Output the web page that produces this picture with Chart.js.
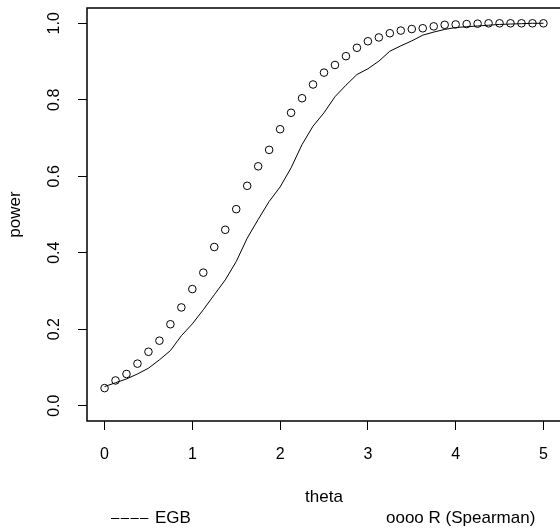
<!DOCTYPE html>
<html>
<head>
<meta charset="utf-8">
<script src="https://cdn.jsdelivr.net/npm/chart.js@4/dist/chart.umd.min.js"></script>
<style>
  html, body { margin: 0; padding: 0; background: #fff; overflow: hidden; }
  #wrap { width: 566px; height: 531px; position: relative; }
</style>
</head>
<body>
<div id="wrap"><canvas id="powerChart"></canvas></div>
<script>
// theta grid (x values)
const theta = [0, 0.125, 0.25, 0.375, 0.5, 0.625, 0.75, 0.875, 1, 1.125, 1.25, 1.375, 1.5, 1.625, 1.75, 1.875,
  2, 2.125, 2.25, 2.375, 2.5, 2.625, 2.75, 2.875, 3, 3.125, 3.25, 3.375, 3.5, 3.625, 3.75, 3.875,
  4, 4.125, 4.25, 4.375, 4.5, 4.625, 4.75, 4.875, 5];

// power of EGB test (solid line)
const egbPower = [0.050, 0.060, 0.070, 0.083, 0.098, 0.120, 0.144, 0.183, 0.214, 0.251, 0.290, 0.329, 0.377, 0.438, 0.487, 0.534,
  0.572, 0.622, 0.683, 0.731, 0.766, 0.808, 0.838, 0.866, 0.881, 0.901, 0.927, 0.941, 0.954, 0.969, 0.977, 0.984,
  0.989, 0.991, 0.993, 0.995, 0.997, 0.998, 0.999, 1.0, 1.0];

// power of R (Spearman) test (circles)
const spearmanPower = [0.046, 0.066, 0.083, 0.110, 0.141, 0.170, 0.213, 0.257, 0.305, 0.348, 0.415, 0.460, 0.514, 0.575, 0.626, 0.669,
  0.723, 0.766, 0.804, 0.840, 0.871, 0.891, 0.914, 0.936, 0.953, 0.963, 0.974, 0.981, 0.985, 0.987, 0.992, 0.996,
  0.997, 0.998, 0.999, 1.0, 1.0, 1.0, 1.0, 1.0, 1.0];

const xTicks = [0, 1, 2, 3, 4, 5];
const yTicks = [0, 0.2, 0.4, 0.6, 0.8, 1.0];

const FONT = '"Liberation Sans", Arial, Helvetica, sans-serif';

// box round the plot, tick labels and titles in R style
const rStyle = {
    id: 'rStyle',
    afterDraw(chart) {
        const ctx = chart.ctx;
        const a = chart.chartArea;
        const xs = chart.scales.x, ys = chart.scales.y;
        ctx.save();
        ctx.strokeStyle = '#000';
        ctx.lineWidth = 1.5;
        ctx.strokeRect(a.left, a.top, a.right - a.left, a.bottom - a.top);

        ctx.fillStyle = '#000';
        ctx.font = '16px ' + FONT;
        ctx.textAlign = 'center';
        ctx.textBaseline = 'middle';
        xTicks.forEach(v => ctx.fillText(String(v), xs.getPixelForValue(v), 455));
        yTicks.forEach(v => {
            ctx.save();
            ctx.translate(55, ys.getPixelForValue(v));
            ctx.rotate(-Math.PI / 2);
            ctx.fillText(v.toFixed(1), 0, 0);
            ctx.restore();
        });

        ctx.font = '17px ' + FONT;
        ctx.fillText('theta', (a.left + a.right) / 2, 497);
        ctx.save();
        ctx.translate(15, (a.top + a.bottom) / 2);
        ctx.rotate(-Math.PI / 2);
        ctx.fillText('power', 0, 0);
        ctx.restore();

        ctx.textAlign = 'left';
        // four separate dashes before the EGB label
        ctx.font = '15px ' + FONT;
        for (let i = 0; i < 4; i++) ctx.fillText('–', 111 + i * 9.7, 518);
        ctx.font = '17px ' + FONT;
        ctx.fillText('EGB', 155, 518);
        ctx.fillText('oooo R (Spearman)', 386, 518);
        ctx.restore();
    }
};

const config = {
    type: 'scatter',
    data: {
        datasets: [{
            label: 'EGB',
            data: theta.map((t, i) => ({ x: t, y: egbPower[i] })),
            showLine: true,
            borderColor: '#000',
            borderWidth: 1,
            pointRadius: 0,
            tension: 0
        }, {
            label: 'R (Spearman)',
            data: theta.map((t, i) => ({ x: t, y: spearmanPower[i] })),
            showLine: false,
            pointStyle: 'circle',
            pointRadius: 3.8,
            borderColor: '#000',
            borderWidth: 1,
            backgroundColor: 'rgba(0,0,0,0)'
        }]
    },
    options: {
        responsive: false,
        animation: false,
        layout: { padding: { top: 8, right: 2, left: 0, bottom: 0 } },
        plugins: { legend: { display: false }, tooltip: { enabled: false } },
        scales: {
            x: {
                type: 'linear',
                min: -0.2,
                max: 5.2,
                afterBuildTicks: axis => { axis.ticks = xTicks.map(v => ({ value: v })); },
                afterFit: axis => { axis.height = 110; },
                ticks: { display: false },
                border: { display: false },
                grid: { drawOnChartArea: false, drawTicks: true, tickLength: 9, color: '#000', lineWidth: 1 }
            },
            y: {
                type: 'linear',
                min: -0.04,
                max: 1.04,
                afterBuildTicks: axis => { axis.ticks = yTicks.map(v => ({ value: v })); },
                afterFit: axis => { axis.width = 87; },
                ticks: { display: false },
                border: { display: false },
                grid: { drawOnChartArea: false, drawTicks: true, tickLength: 9, color: '#000', lineWidth: 1 }
            }
        }
    },
    plugins: [rStyle]
};

const canvas = document.getElementById('powerChart');
canvas.width = 566;
canvas.height = 531;
new Chart(canvas, config);
</script>
</body>
</html>
